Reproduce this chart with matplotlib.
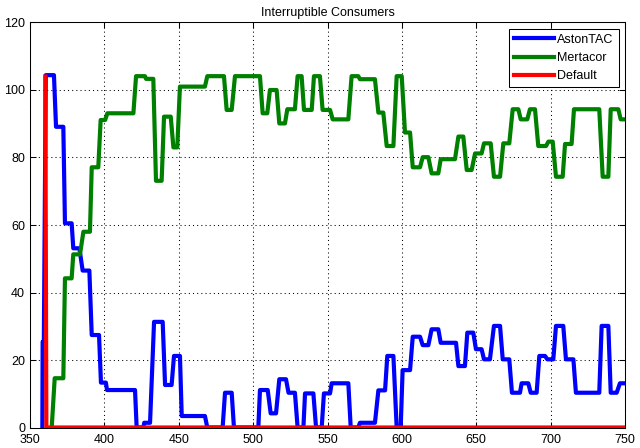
import numpy as np
import matplotlib
matplotlib.use("Agg")
import matplotlib.pyplot as plt

plt.rcParams['font.family'] = ['Liberation Sans', 'DejaVu Sans']
plt.rcParams['font.size'] = 9

# breakpoints (x, value)
aston_x = [358.3, 358.5, 359.3, 360.6, 366.1, 367.5, 372.4, 373.5, 378.0, 379.1,
           383.2, 385.4, 389.9, 391.5, 396.4, 397.7, 401.0, 401.8, 420.6, 421.7,
           426.2, 426.8, 430.7, 433.4, 439.2, 440.8, 445.2, 446.8, 450.8, 452.0,
           467.6, 469.2, 479.5, 481.1, 485.6, 487.1, 503.5, 504.6, 509.8, 511.8,
           515.4, 517.6, 522.1, 523.8, 528.1, 529.9, 533.8, 534.9, 540.5, 542.3,
           546.1, 547.6, 551.7, 552.8, 564.0, 565.6, 570.7, 571.8, 581.9, 584.2,
           588.7, 590.2, 594.3, 596.5, 599.2, 600.5, 605.5, 607.3, 612.2, 614.0,
           617.8, 620.0, 624.5, 626.1, 636.4, 638.0, 642.4, 644.0, 648.0, 649.8,
           653.6, 655.2, 659.2, 661.9, 666.0, 667.8, 672.2, 674.0, 679.4, 680.5,
           685.0, 686.6, 690.6, 692.4, 696.2, 697.8, 701.8, 703.6, 708.5, 710.3,
           715.3, 717.0, 732.7, 734.3, 738.8, 740.4, 744.4, 746.6, 750.0]
aston_y = [0, 25.4, 25.4, 104.4, 104.4, 89.1, 89.1, 60.5, 60.5, 53.1,
           53.1, 46.5, 46.5, 27.4, 27.4, 13.3, 13.3, 11.1, 11.1, 0,
           0, 1.4, 1.4, 31.3, 31.3, 12.6, 12.6, 21.2, 21.2, 3.4,
           3.4, 0, 0, 10.3, 10.3, 0, 0, 11.1, 11.1, 4.2,
           4.2, 14.3, 14.3, 10.3, 10.3, 0, 0, 10.1, 10.1, 0,
           0, 10.1, 10.1, 13.1, 13.1, 0, 0, 1.4, 1.4, 11.0,
           11.0, 21.2, 21.2, 0, 0, 17.0, 17.0, 26.9, 26.9, 24.4,
           24.4, 29.1, 29.1, 25.1, 25.1, 18.2, 18.2, 28.1, 28.1, 23.2,
           23.2, 20.2, 20.2, 30.1, 30.1, 20.2, 20.2, 10.3, 10.3, 13.1,
           13.1, 10.3, 10.3, 21.2, 21.2, 20.2, 20.2, 30.1, 30.1, 20.2,
           20.2, 10.3, 10.3, 30.1, 30.1, 10.3, 10.3, 13.1, 13.1]

mertacor_x = [364.6, 366.6, 372.4, 373.5, 378.0, 379.1, 383.6, 385.9, 390.3, 391.5,
              395.9, 397.5, 400.5, 402.0, 419.5, 421.3, 427.3, 428.0, 432.9, 434.7,
              438.5, 440.1, 444.6, 446.4, 449.0, 450.8, 467.6, 469.2, 480.4, 482.2,
              485.6, 487.8, 504.6, 506.4, 509.5, 511.3, 515.8, 517.6, 521.4, 523.0,
              528.1, 529.9, 532.6, 534.2, 539.4, 540.9, 544.9, 546.7, 551.7, 553.5,
              564.0, 566.2, 570.7, 571.8, 581.9, 584.2, 587.5, 589.8, 594.3, 596.5,
              599.9, 602.1, 605.5, 607.3, 612.2, 614.0, 617.8, 620.0, 624.5, 626.1,
              635.7, 638.0, 641.3, 643.6, 646.9, 649.2, 653.6, 655.2, 659.7, 661.9,
              666.0, 668.2, 672.2, 674.5, 678.3, 679.9, 684.3, 686.1, 689.5, 691.7,
              696.9, 698.5, 701.4, 703.6, 708.1, 709.7, 714.1, 715.7, 732.7, 735.0,
              738.8, 740.4, 745.5, 747.1, 750.0]
mertacor_y = [0, 14.6, 14.6, 44.2, 44.2, 51.3, 51.3, 58.0, 58.0, 77.1,
              77.1, 91.1, 91.1, 93.1, 93.1, 104.1, 104.1, 103.3, 103.3, 73.1,
              73.1, 92.1, 92.1, 83.0, 83.0, 101.0, 101.0, 104.1, 104.1, 94.1,
              94.1, 104.1, 104.1, 93.1, 93.1, 100.0, 100.0, 90.1, 90.1, 94.3,
              94.3, 104.1, 104.1, 94.1, 94.1, 104.1, 104.1, 94.1, 94.1, 91.3,
              91.3, 104.1, 104.1, 103.2, 103.2, 93.3, 93.3, 83.4, 83.4, 104.1,
              104.1, 87.4, 87.4, 77.1, 77.1, 80.1, 80.1, 75.3, 75.3, 79.5,
              79.5, 86.2, 86.2, 76.3, 76.3, 81.2, 81.2, 84.2, 84.2, 74.3,
              74.3, 84.2, 84.2, 94.3, 94.3, 91.3, 91.3, 94.3, 94.3, 83.4,
              83.4, 84.7, 84.7, 74.3, 74.3, 84.0, 84.0, 94.3, 94.3, 74.3,
              74.3, 94.3, 94.3, 91.3, 91.3]

default_x = [360.3, 361.0, 750.0]
default_y = [104, 0, 0]

fig = plt.figure(figsize=(6.4, 4.48), dpi=100)
ax = fig.add_axes([30/640, 20.5/448, 595/640, 405/448])

ax.plot(aston_x, aston_y, color=(0, 0, 1), lw=3, label="AstonTAC")
ax.plot(mertacor_x, mertacor_y, color=(0, 0.5, 0), lw=3, label="Mertacor")
ax.plot(default_x, default_y, color=(1, 0, 0), lw=3, label="Default")

ax.set_xlim(350, 750)
ax.set_ylim(0, 120)
ax.set_xticks(np.arange(350, 751, 50))
ax.set_yticks(np.arange(0, 121, 20))
ax.grid(True, color="black", linestyle=(0, (1, 3)), linewidth=0.75)
ax.tick_params(direction="in", length=4, width=0.75, labelsize=9,
               top=True, right=True)
ax.tick_params(axis="x", pad=4.5)
ax.tick_params(axis="y", pad=3.5)
for s in ax.spines.values():
    s.set_linewidth(0.75)
    s.set_color("black")
ax.set_title("Interruptible Consumers", fontsize=9, pad=5)

leg = ax.legend(loc="upper right", fancybox=False, framealpha=1, edgecolor="black",
                handlelength=3.2, handletextpad=0.3, labelspacing=0.5,
                borderpad=0.4, borderaxespad=0.5, fontsize=9)
leg.get_frame().set_linewidth(0.75)

fig.savefig("out.png", dpi=100)
